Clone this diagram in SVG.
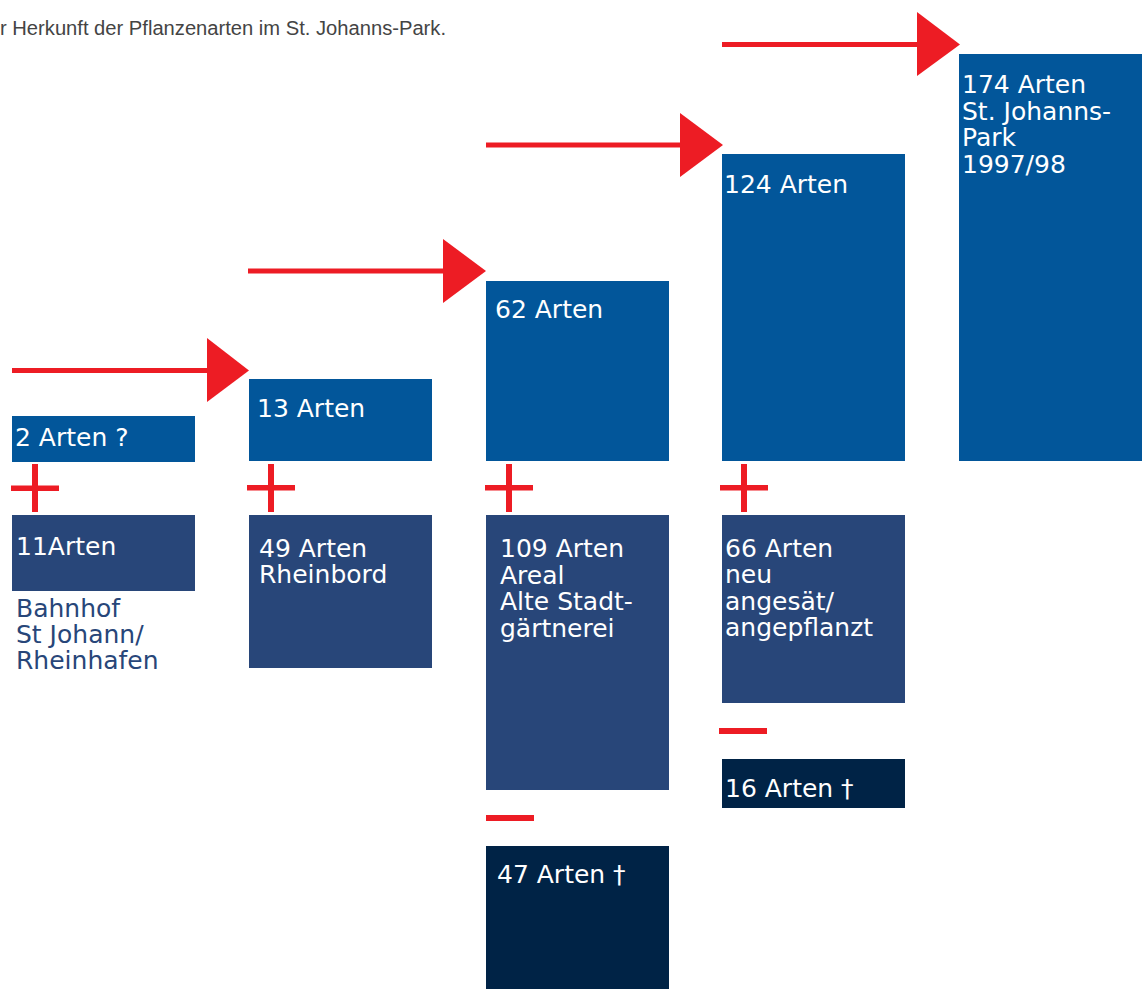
<svg xmlns="http://www.w3.org/2000/svg" width="1146" height="989" viewBox="0 0 1146 989">
<style>
.b1{fill:#02569A}
.b2{fill:#284679}
.b3{fill:#002346}
.t{font-family:"DejaVu Sans",Verdana,sans-serif;font-size:25px;fill:#fff}
.tb{font-family:"DejaVu Sans",Verdana,sans-serif;font-size:25px;fill:#284679}
.title{font-family:"Liberation Sans",Arial,sans-serif;font-size:19.5px;fill:#444}
.ln{stroke:#ED1C24;stroke-width:5;fill:none}
.hd{fill:#ED1C24}
</style>
<rect width="1146" height="989" fill="#fff"/>
<text class="title" x="0" y="35" textLength="446" lengthAdjust="spacingAndGlyphs">r Herkunft der Pflanzenarten im St. Johanns-Park.</text>
<g id="connectors">
<line class="ln" x1="12" y1="370.5" x2="209" y2="370.5"/>
<polygon class="hd" points="207,338 249,370.5 207,402"/>
<line class="ln" x1="248" y1="271" x2="445" y2="271"/>
<polygon class="hd" points="443,239 486,271 443,303"/>
<line class="ln" x1="486" y1="145" x2="682" y2="145"/>
<polygon class="hd" points="680,113 723,145 680,177"/>
<line class="ln" x1="722" y1="44.5" x2="919" y2="44.5"/>
<polygon class="hd" points="917,12 960,44.5 917,76"/>
<g fill="#ED1C24">
<rect x="11" y="485.5" width="48" height="5.5"/><rect x="32" y="464" width="6" height="48"/>
<rect x="247" y="485" width="48" height="5.5"/><rect x="268" y="464" width="6" height="48"/>
<rect x="485" y="485" width="48" height="5.5"/><rect x="506" y="464" width="6" height="48"/>
<rect x="720" y="485" width="48" height="5.5"/><rect x="741" y="464" width="6" height="48"/>
<rect x="486" y="815" width="48" height="6"/>
<rect x="719" y="728" width="48" height="6"/>
</g>
</g>
<g id="n2arten"><rect class="b1" x="12" y="416" width="183" height="46"/><text class="t" x="15" y="446">2 Arten ?</text></g>
<g id="n11arten"><rect class="b2" x="12" y="515" width="183" height="76"/><text class="t" x="16" y="555">11Arten</text>
<text class="tb" x="16" y="617">Bahnhof</text><text class="tb" x="16" y="643">St Johann/</text><text class="tb" x="16" y="669">Rheinhafen</text></g>
<g id="n13arten"><rect class="b1" x="249" y="379" width="183" height="82"/><text class="t" x="257" y="417">13 Arten</text></g>
<g id="n49arten"><rect class="b2" x="249" y="515" width="183" height="153"/><text class="t" x="259" y="557">49 Arten</text><text class="t" x="259" y="583">Rheinbord</text></g>
<g id="n62arten"><rect class="b1" x="486" y="281" width="183" height="180"/><text class="t" x="495" y="318">62 Arten</text></g>
<g id="n109arten"><rect class="b2" x="486" y="515" width="183" height="275"/><text class="t" x="500" y="557">109 Arten</text><text class="t" x="500" y="583.5">Areal</text><text class="t" x="500" y="610">Alte Stadt-</text><text class="t" x="500" y="636.5">gärtnerei</text></g>
<g id="n47arten"><rect class="b3" x="486" y="846" width="183" height="143"/><text class="t" x="497" y="883">47 Arten †</text></g>
<g id="n124arten"><rect class="b1" x="722" y="154" width="183" height="307"/><text class="t" x="724" y="193">124 Arten</text></g>
<g id="n66arten"><rect class="b2" x="722" y="515" width="183" height="188"/><text class="t" x="725" y="557">66 Arten</text><text class="t" x="725" y="583">neu</text><text class="t" x="725" y="609.5">angesät/</text><text class="t" x="725" y="636">angepflanzt</text></g>
<g id="n16arten"><rect class="b3" x="722" y="759" width="183" height="49"/><text class="t" x="725" y="797">16 Arten †</text></g>
<g id="n174arten"><rect class="b1" x="959" y="54" width="183" height="407"/><text class="t" x="962" y="93">174 Arten</text><text class="t" x="962" y="119.5">St. Johanns-</text><text class="t" x="962" y="146">Park</text><text class="t" x="962" y="172.5">1997/98</text></g>
</svg>
